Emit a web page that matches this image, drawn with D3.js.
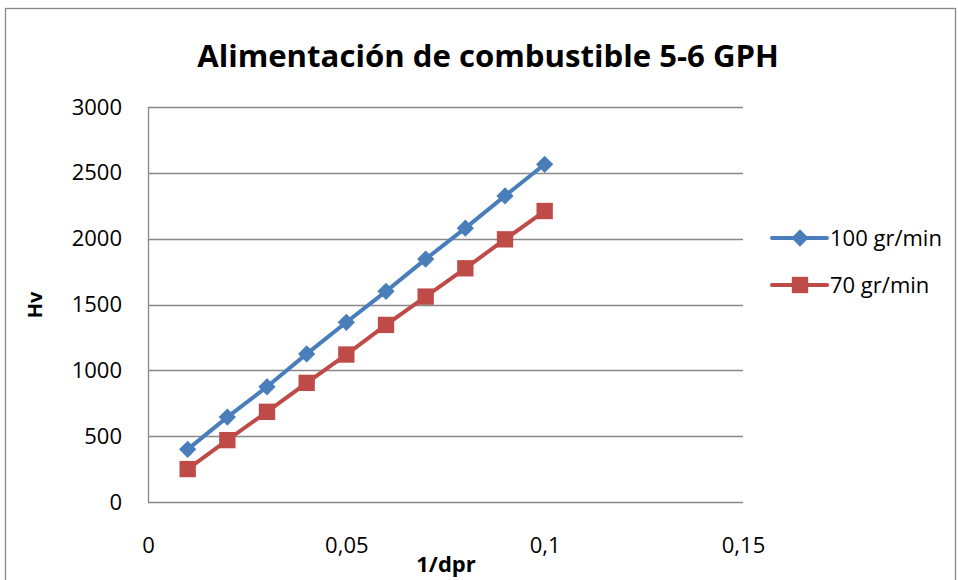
<!DOCTYPE html>
<html>
<head>
<meta charset="utf-8">
<script src="https://cdn.jsdelivr.net/npm/d3@7"></script>
<style>
  body { margin: 0; background: #fff; }
  svg { font-family: "Open Sans", Lato, sans-serif; }
</style>
</head>
<body>
<div id="chart"></div>
<script>
// data
const xValues = [0.01, 0.02, 0.03, 0.04, 0.05, 0.06, 0.07, 0.08, 0.09, 0.1];
const hv100 = [400, 645, 875, 1125, 1365, 1600, 1845, 2080, 2325, 2565];
const hv70 = [250, 470, 685, 905, 1120, 1345, 1560, 1775, 1995, 2210];
const seriesNames = ["100 gr/min", "70 gr/min"];
const xTicks = [0, 0.05, 0.1, 0.15];
const yTicks = [0, 500, 1000, 1500, 2000, 2500, 3000];

var width = 958
var height = 580
var blue = "#4a7ebb"
var red = "#be4b48"

var svg = d3.select("#chart").append("svg")
  .attr("width", width)
  .attr("height", height)

// outer chart frame
svg.append("rect")
  .attr("x", 5.5).attr("y", 8.5)
  .attr("width", 950).attr("height", 600)
  .attr("fill", "white")
  .attr("stroke", "#888").attr("stroke-width", 1.3)

var x = d3.scaleLinear().domain([0, 0.15]).range([148, 743])
var y = d3.scaleLinear().domain([0, 3000]).range([502, 107])

// gridlines
svg.append("g")
  .selectAll("line")
  .data(yTicks)
  .enter().append("line")
    .attr("x1", x(0)).attr("x2", x(0.15))
    .attr("y1", d => Math.round(y(d)) + 0.5)
    .attr("y2", d => Math.round(y(d)) + 0.5)
    .attr("stroke", "#888").attr("stroke-width", 1.3)

// left axis line
svg.append("line")
  .attr("x1", x(0) + 0.5).attr("x2", x(0) + 0.5)
  .attr("y1", y(3000)).attr("y2", y(0))
  .attr("stroke", "#888").attr("stroke-width", 1.3)

// tick labels
var fmt = d => String(d).replace(".", ",")
var yAxis = d3.axisLeft(y).tickValues(yTicks).tickFormat(fmt).tickSize(0).tickPadding(26)
var gy = svg.append("g").attr("transform", "translate(" + x(0) + ",0)").call(yAxis)
gy.select(".domain").remove()
gy.selectAll("text").style("font-size", "22px").style("font-family", "Open Sans").attr("fill", "#000")

var xAxis = d3.axisBottom(x).tickValues(xTicks).tickFormat(fmt).tickSize(0).tickPadding(35)
var gx = svg.append("g").attr("transform", "translate(0," + y(0) + ")").call(xAxis)
gx.select(".domain").remove()
gx.selectAll("text").style("font-size", "22px").style("font-family", "Open Sans").attr("fill", "#000")

// titles
var title = svg.append("text")
  .attr("x", 488).attr("y", 67)
  .attr("text-anchor", "middle")
  .style("font-size", "30px").style("font-weight", "bold")
  .text("Alimentación de combustible 5-6 GPH")
var tw = title.node().getComputedTextLength()
title.style("font-size", (30 * 582 / tw) + "px")

svg.append("text")
  .attr("x", 446).attr("y", 572)
  .attr("text-anchor", "middle")
  .style("font-size", "22px").style("font-weight", "bold")
  .text("1/dpr")

svg.append("text")
  .attr("transform", "translate(42,305) rotate(-90)")
  .attr("text-anchor", "middle")
  .style("font-size", "20px").style("font-weight", "bold")
  .text("Hv")

// series
var series = [
  {name: seriesNames[0], values: hv100, color: blue, shape: d3.symbolDiamond2, size: 190},
  {name: seriesNames[1], values: hv70, color: red, shape: d3.symbolSquare2, size: 340}
]

var line = d3.line()
  .x((d, i) => x(xValues[i]))
  .y(d => y(d))

series.forEach(function(s) {
  svg.append("path")
    .datum(s.values)
    .attr("d", line)
    .attr("fill", "none")
    .attr("stroke", s.color)
    .attr("stroke-width", 4)
    .attr("stroke-linejoin", "round")

  svg.append("g")
    .selectAll("path")
    .data(s.values)
    .enter().append("path")
      .attr("transform", (d, i) => "translate(" + x(xValues[i]) + "," + y(d) + ")")
      .attr("d", d3.symbol().type(s.shape).size(s.size))
      .attr("fill", s.color)
})

// legend
var legend = svg.append("g")
  .selectAll("g")
  .data(series)
  .enter().append("g")
    .attr("transform", (d, i) => "translate(772," + (238 + i * 47) + ")")

legend.append("line")
  .attr("x1", 0).attr("x2", 55)
  .attr("stroke", d => d.color).attr("stroke-width", 4)
  .attr("stroke-linecap", "round")

legend.append("path")
  .attr("transform", "translate(28,0)")
  .attr("d", d => d3.symbol().type(d.shape).size(d.size)())
  .attr("fill", d => d.color)

legend.append("text")
  .attr("x", 58).attr("y", 8)
  .style("font-size", "22px")
  .text(d => d.name)
</script>
</body>
</html>
